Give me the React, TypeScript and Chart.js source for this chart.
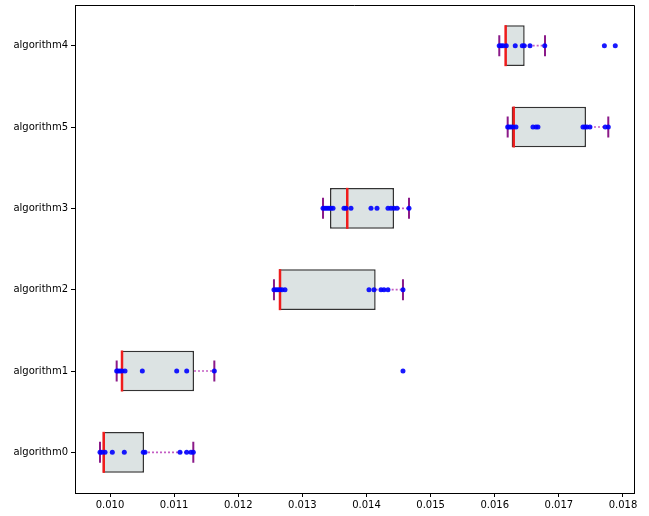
import React, { useEffect, useRef } from "react";
import { Chart, registerables } from "chart.js";

Chart.register(...registerables);

// Categories, top to bottom
const categories = ["algorithm4", "algorithm5", "algorithm3", "algorithm2", "algorithm1", "algorithm0"];

// Box statistics, same order as categories
const whiskerLow = [0.016071, 0.016202, 0.013322, 0.012557, 0.010104, 0.009844];
const q1 = [0.01616, 0.016264, 0.013431, 0.012635, 0.010172, 0.009886];
const median = [0.01617, 0.016296, 0.0137, 0.012651, 0.010187, 0.009902];
const q3 = [0.016467, 0.017423, 0.014429, 0.014143, 0.01131, 0.01053];
const whiskerHigh = [0.016784, 0.017771, 0.014663, 0.014569, 0.011627, 0.011299];

// Individual runs
const algorithm4 = [0.01607, 0.0161, 0.01613, 0.01618, 0.01632, 0.01643, 0.01646, 0.01655, 0.01678, 0.01771, 0.01788];
const algorithm5 = [0.016202, 0.016222, 0.016253, 0.016285, 0.016331, 0.016596, 0.016643, 0.016674, 0.017376, 0.017407, 0.017439, 0.017485, 0.017724, 0.017771];
const algorithm3 = [0.013322, 0.013353, 0.013384, 0.013415, 0.013446, 0.013478, 0.013649, 0.01368, 0.013758, 0.01407, 0.014164, 0.014335, 0.014382, 0.014429, 0.014476, 0.014663];
const algorithm2 = [0.012557, 0.012589, 0.01262, 0.012651, 0.012682, 0.012729, 0.014039, 0.014117, 0.014226, 0.014273, 0.014335, 0.014569];
const algorithm1 = [0.010104, 0.010125, 0.010156, 0.010187, 0.010234, 0.010504, 0.01104, 0.011196, 0.011627, 0.014569];
const algorithm0 = [0.009844, 0.009875, 0.009922, 0.010036, 0.010223, 0.010519, 0.010546, 0.011092, 0.011196, 0.011263, 0.011299];

const runs = [algorithm4, algorithm5, algorithm3, algorithm2, algorithm1, algorithm0];

// X axis
const xMin = 0.009454;
const xMax = 0.018172;
const xTicks = [0.01, 0.011, 0.012, 0.013, 0.014, 0.015, 0.016, 0.017, 0.018];

const framePlugin = {
  id: "frame",
  afterDraw(chart: any) {
    const { ctx, chartArea } = chart;
    ctx.save();
    ctx.strokeStyle = "#000";
    ctx.lineWidth = 1;
    ctx.beginPath();
    ctx.moveTo(chartArea.left, chartArea.top + 0.5);
    ctx.lineTo(chartArea.right + 0.5, chartArea.top + 0.5);
    ctx.lineTo(chartArea.right + 0.5, chartArea.bottom);
    ctx.stroke();
    ctx.restore();
  },
};

export default function App() {
  const ref = useRef<HTMLCanvasElement | null>(null);

  useEffect(() => {
    if (!ref.current) return;
    document.body.style.margin = "0";
    const font = { family: "DejaVu Sans", size: 10 };

    const pointData: any[] = [];
    runs.forEach((arr, i) => arr.forEach((v) => pointData.push({ x: v, y: categories[i] })));

    const whiskerData: any[] = [];
    categories.forEach((c, i) => {
      whiskerData.push({ x: whiskerLow[i], y: c });
      whiskerData.push({ x: q1[i], y: c });
      whiskerData.push({ x: null, y: c });
      whiskerData.push({ x: q3[i], y: c });
      whiskerData.push({ x: whiskerHigh[i], y: c });
      whiskerData.push({ x: null, y: c });
    });

    const capData: any[] = [];
    categories.forEach((c, i) => {
      capData.push({ x: whiskerLow[i], y: c });
      capData.push({ x: whiskerHigh[i], y: c });
    });

    const medianData = categories.map((c, i) => ({ x: median[i], y: c }));

    const chart = new Chart(ref.current, {
      type: "bar",
      data: {
        labels: categories,
        datasets: [
          {
            type: "line",
            indexAxis: "y",
            data: pointData,
            showLine: false,
            pointRadius: 2.5,
            pointBorderWidth: 0,
            pointBackgroundColor: "rgba(0,0,255,0.9)",
            pointBorderColor: "rgba(0,0,255,0.9)",
            order: 0,
          } as any,
          {
            type: "line",
            indexAxis: "y",
            data: medianData,
            showLine: false,
            pointStyle: "line",
            pointRotation: 90,
            pointRadius: 20.5,
            pointBorderWidth: 2.5,
            pointBorderColor: "#f01c1c",
            order: 1,
          } as any,
          {
            type: "line",
            indexAxis: "y",
            data: capData,
            showLine: false,
            pointStyle: "line",
            pointRotation: 90,
            pointRadius: 10.5,
            pointBorderWidth: 2,
            pointBorderColor: "#8b1a89",
            order: 2,
          } as any,
          {
            type: "line",
            indexAxis: "y",
            data: whiskerData,
            showLine: true,
            spanGaps: false,
            pointRadius: 0,
            borderColor: "#c45ec4",
            borderWidth: 1.6,
            borderDash: [2, 2],
            order: 3,
          } as any,
          {
            type: "bar",
            indexAxis: "y",
            data: categories.map((_, i) => [q1[i], q3[i]]),
            backgroundColor: "#dce3e3",
            borderColor: "#333333",
            borderWidth: 1.5,
            borderSkipped: false,
            categoryPercentage: 1,
            barPercentage: 0.5,
            order: 4,
          } as any,
        ],
      },
      options: {
        indexAxis: "y",
        responsive: false,
        maintainAspectRatio: false,
        animation: false,
        events: [],
        devicePixelRatio: 1,
        layout: { autoPadding: false, padding: { top: 5, right: 15, left: 0, bottom: 0 } },
        plugins: { legend: { display: false }, tooltip: { enabled: false } },
        scales: {
          x: {
            type: "linear",
            min: xMin,
            max: xMax,
            afterBuildTicks: (axis: any) => {
              axis.ticks = xTicks.map((v) => ({ value: v }));
            },
            afterFit: (axis: any) => {
              axis.height = 23;
              axis.paddingLeft = 0;
              axis.paddingRight = 0;
              axis.paddingTop = 0;
              axis.paddingBottom = 0;
            },
            ticks: {
              font,
              color: "#000",
              padding: 2,
              maxRotation: 0,
              autoSkip: false,
              callback: (v: any) => Number(v).toFixed(3),
            },
            grid: {
              display: true,
              drawOnChartArea: false,
              drawTicks: true,
              tickLength: 4,
              color: "#000",
            },
            border: { display: true, color: "#000", width: 1 },
          },
          y: {
            type: "category",
            labels: categories,
            offset: true,
            afterFit: (axis: any) => {
              axis.width = 75;
              axis.paddingLeft = 0;
              axis.paddingRight = 0;
              axis.paddingTop = 0;
              axis.paddingBottom = 0;
            },
            ticks: { font, color: "#000", padding: 3, autoSkip: false },
            grid: {
              display: true,
              offset: false,
              drawOnChartArea: false,
              drawTicks: true,
              tickLength: 4,
              color: "#000",
            },
            border: { display: true, color: "#000", width: 1 },
          },
        },
      } as any,
      plugins: [framePlugin],
    });

    return () => chart.destroy();
  }, []);

  return (
    <div style={{ position: "absolute", left: 0, top: 0, width: 649, height: 516, background: "#fff" }}>
      <canvas ref={ref} width={649} height={516} style={{ display: "block", width: 649, height: 516 }} />
    </div>
  );
}
